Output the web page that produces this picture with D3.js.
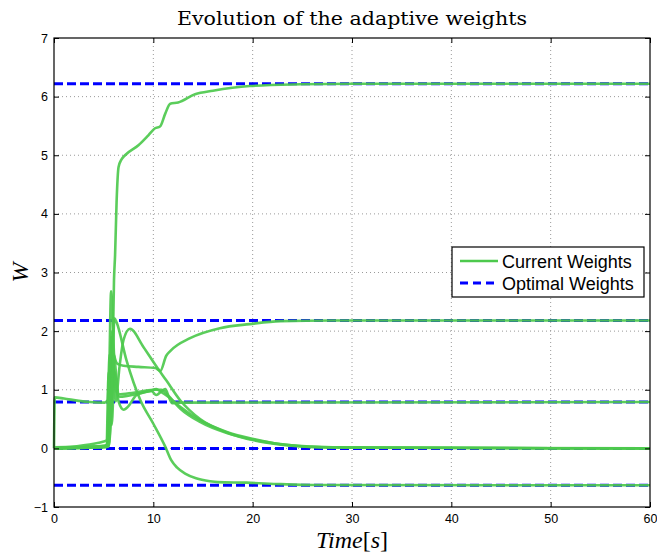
<!DOCTYPE html>
<html>
<head>
<meta charset="utf-8">
<script src="https://cdn.jsdelivr.net/npm/d3@7"></script>
<style>
  body { margin: 0; background: #fff; }
  svg { display: block; }
</style>
</head>
<body>
<div id="chart"></div>
<script>
// optimal weights (blue dashed)
var optimal = [6.22, 2.18, 0.79, 0.0, -0.63];

// current weights, [time, value]
var w1 = [[0,0],[3,0.02],[5.55,0.05],[5.75,0.6],[5.9,1.5],[6.04,2.87],[6.15,3.3],[6.3,4.2],[6.5,4.8],[6.8,4.93],[7.15,5.0],[8.5,5.17],[9.5,5.34],[10.17,5.46],[10.67,5.49],[11.2,5.71],[11.7,5.88],[12.5,5.9],[14.2,6.04],[16,6.1],[19.7,6.18],[24.8,6.21],[30,6.22],[60,6.22]];
var w2 = [[0,0],[5.3,0.02],[5.55,1.2],[5.75,2.68],[5.9,2.3],[6.05,1.6],[6.4,1.44],[7,1.41],[8.5,1.39],[10.2,1.37],[10.7,1.32],[11.3,1.58],[11.7,1.66],[13.7,1.88],[16.7,2.05],[19.7,2.12],[22.8,2.17],[28,2.18],[60,2.18]];
var w3 = [[0,0],[0.08,0.87],[1,0.85],[2.5,0.81],[3.6,0.79],[5.1,0.78],[5.4,0.82],[5.6,1.6],[5.8,0.4],[6.1,1.3],[6.5,0.8],[7.0,0.66],[7.5,0.72],[8.3,0.91],[9.7,0.98],[10.3,1.01],[10.7,0.97],[11.5,0.88],[12.7,0.71],[14.7,0.48],[17.4,0.28],[20.1,0.16],[22.8,0.07],[26,0.03],[30,0.01],[60,0]];
var w4 = [[0,0.02],[4,0.03],[5.3,0.04],[5.6,0.9],[5.85,2.0],[6.1,1.1],[6.6,0.88],[8.66,0.94],[9.8,0.98],[10.3,0.91],[10.8,0.97],[11.2,1.01],[11.6,0.86],[11.9,0.77],[12.5,0.78],[60,0.79]];
var w5 = [[0,0],[5.1,0.05],[5.5,0.08],[5.8,1.9],[6.2,0.8],[6.6,1.4],[7.0,1.85],[7.65,2.04],[9.0,1.73],[10.3,1.4],[11.3,1.16],[12.7,0.82],[14.7,0.5],[17.4,0.27],[22.1,0.08],[27,0.02],[60,0]];
var w6 = [[0,0],[5.5,0.03],[5.8,1.0],[6.1,2.22],[6.3,2.15],[7.3,1.5],[8.7,0.82],[10,0.42],[11.2,0.03],[11.8,-0.2],[12.4,-0.33],[13.2,-0.43],[14.3,-0.51],[15.7,-0.56],[16.5,-0.575],[19.4,-0.585],[22.8,-0.61],[26,-0.625],[60,-0.63]];
var w7 = [[0,0],[5.1,0.12],[5.3,0.14],[5.5,1.3],[5.7,0.4],[6.0,1.6],[6.5,0.92],[8,0.95],[10,1.0],[10.8,1.0],[11.5,0.9],[12.7,0.68],[14.7,0.45],[17.4,0.26],[20,0.15],[23,0.07],[27,0.02],[60,0]];
var weights = [w1, w2, w3, w4, w5, w6, w7];

var xTicks = [0, 10, 20, 30, 40, 50, 60];
var yTicks = [-1, 0, 1, 2, 3, 4, 5, 6, 7];
var legendLabels = ["Current Weights", "Optimal Weights"];

var width = 657, height = 554;
var margin = {top: 38, right: 7, bottom: 47, left: 54};
var w = width - margin.left - margin.right,
    h = height - margin.top - margin.bottom;
var green = "#4dc94d", blue = "#0000ff";

var svg = d3.select("#chart").append("svg")
  .attr("width", width)
  .attr("height", height);

var g = svg.append("g")
  .attr("transform", "translate(" + margin.left + "," + margin.top + ")");

var x = d3.scaleLinear().domain([0, 60]).range([0, w]);
var y = d3.scaleLinear().domain([-1, 7]).range([h, 0]);

// grid
g.selectAll(".gx").data(xTicks.slice(1, -1)).enter().append("line")
  .attr("x1", function (d) { return x(d); })
  .attr("x2", function (d) { return x(d); })
  .attr("y1", 0).attr("y2", h)
  .attr("stroke", "#9a9a9a").attr("stroke-width", 1)
  .attr("stroke-dasharray", "1,3");
g.selectAll(".gy").data(yTicks.slice(1, -1)).enter().append("line")
  .attr("y1", function (d) { return y(d); })
  .attr("y2", function (d) { return y(d); })
  .attr("x1", 0).attr("x2", w)
  .attr("stroke", "#9a9a9a").attr("stroke-width", 1)
  .attr("stroke-dasharray", "1,3");

// optimal lines
g.selectAll(".opt").data(optimal).enter().append("line")
  .attr("x1", x(0)).attr("x2", x(60))
  .attr("y1", function (d) { return y(d); })
  .attr("y2", function (d) { return y(d); })
  .attr("stroke", blue).attr("stroke-width", 3)
  .attr("stroke-dasharray", "9,4");

// current weights
var line = d3.line()
  .x(function (d) { return x(d[0]); })
  .y(function (d) { return y(d[1]); })
  .curve(d3.curveMonotoneX);

g.selectAll(".wt").data(weights).enter().append("path")
  .attr("d", line)
  .attr("fill", "none")
  .attr("stroke", green)
  .attr("stroke-width", 2.6)
  .attr("stroke-opacity", 0.92)
  .attr("stroke-linejoin", "round");

// axes, ticks pointing in
function fmt(d) { return d < 0 ? "\u2212" + Math.abs(d) : d; }

var xb = g.append("g").attr("transform", "translate(0," + h + ")")
  .call(d3.axisBottom(x).tickValues(xTicks).tickSize(-5).tickPadding(7).tickFormat(fmt));
var yl = g.append("g")
  .call(d3.axisLeft(y).tickValues(yTicks).tickSize(-5).tickPadding(6).tickFormat(fmt));
var xt = g.append("g")
  .call(d3.axisTop(x).tickValues(xTicks).tickSize(-5).tickFormat(""));
var yr = g.append("g").attr("transform", "translate(" + w + ",0)")
  .call(d3.axisRight(y).tickValues(yTicks).tickSize(-5).tickFormat(""));

[xb, yl, xt, yr].forEach(function (a) {
  a.select(".domain").remove();
  a.selectAll("line").attr("stroke", "#000");
  a.selectAll("text")
    .attr("fill", "#000")
    .style("font-family", "'Liberation Sans', Arial, sans-serif")
    .style("font-size", "12.5px");
});

g.append("rect")
  .attr("x", 0).attr("y", 0).attr("width", w).attr("height", h)
  .attr("fill", "none").attr("stroke", "#000").attr("stroke-width", 1.2);

// title and axis labels
svg.append("text")
  .attr("x", margin.left + w / 2).attr("y", 25)
  .attr("text-anchor", "middle")
  .attr("textLength", 350).attr("lengthAdjust", "spacingAndGlyphs")
  .style("font-family", "'DejaVu Serif', 'Liberation Serif', serif")
  .style("font-size", "18px")
  .text("Evolution of the adaptive weights");

var xl = svg.append("text")
  .attr("x", margin.left + w / 2).attr("y", 548)
  .attr("text-anchor", "middle")
  .style("font-family", "'Liberation Serif', 'DejaVu Serif', serif")
  .style("font-size", "24px");
xl.append("tspan").style("font-style", "italic").text("Time");
xl.append("tspan").text("[");
xl.append("tspan").style("font-style", "italic").text("s");
xl.append("tspan").text("]");

svg.append("text")
  .attr("transform", "translate(28," + (margin.top + y(3)) + ") rotate(-90)")
  .attr("text-anchor", "middle")
  .style("font-family", "'Liberation Serif', 'DejaVu Serif', serif")
  .style("font-size", "24px")
  .style("font-style", "italic")
  .text("W");

// legend
var lg = svg.append("g").attr("transform", "translate(452,247)");
lg.append("rect")
  .attr("width", 192).attr("height", 50)
  .attr("fill", "#fff").attr("stroke", "#000").attr("stroke-width", 1.2);
var items = lg.selectAll(".item").data(legendLabels).enter().append("g")
  .attr("transform", function (d, i) { return "translate(0," + (14 + i * 22) + ")"; });
items.append("line")
  .attr("x1", 8).attr("x2", 46).attr("y1", 0).attr("y2", 0)
  .attr("stroke", function (d, i) { return i === 0 ? green : blue; })
  .attr("stroke-width", function (d, i) { return i === 0 ? 2.6 : 3; })
  .attr("stroke-dasharray", function (d, i) { return i === 0 ? null : "8,5"; });
items.append("text")
  .attr("x", 50).attr("y", 7)
  .style("font-family", "'Liberation Sans', Arial, sans-serif")
  .style("font-size", "18px")
  .text(function (d) { return d; });
</script>
</body>
</html>
